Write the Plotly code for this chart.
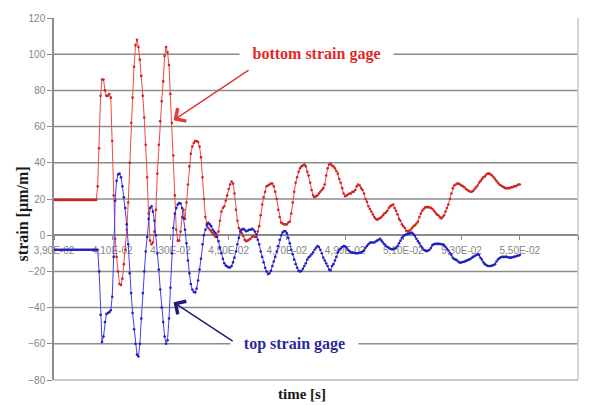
import numpy as np
import plotly.graph_objects as go

# Sampling of the strain recordings (s)
t_start = 0.039
t_step = 5e-5

# Bottom strain gage, µm/m
bottom_gage = [19.5] * 30 + [
    27, 48, 77, 86, 86, 80, 77, 77, 78, 76,
    52, 22, -2, -12, -20, -27, -27.5, -24, -16, -8,
    3, 18, 40, 62, 76, 93, 105, 108, 104, 97,
    88, 77, 65, 50, 32, 12, -3, -5, -4, 2,
    14, 34, 50, 63, 74, 85, 99, 104, 101, 94,
    78, 62, 44, 22, 3, -3, -3, 2, 10, 14,
    9, 18, 28, 38, 45, 49, 51, 52, 52, 51.5,
    49, 43, 32, 20, 10, 6.5, 4, 3, 2, 1,
    0, -1, -0.5, 2, 8, 13, 15, 16, 19, 22,
    25.5, 28, 29.7, 28.5, 23, 14, 8, 4, 3, 1,
    -0.5, -2.5, -3.3, -3, -2.5, -2, -1, -0.5, -1, -1,
    2, 5, 11, 17, 21, 24, 27, 27.5, 28, 28.5,
    28.5, 27, 24, 20, 14, 10, 7, 6.5, 6, 6,
    6, 7, 7.5, 12, 18, 24, 29, 32, 35, 37,
    38, 38.5, 39, 38, 35, 33, 29, 25, 22, 21,
    21.5, 22, 23, 24, 25, 26, 28, 33, 37, 39,
    39.5, 38.5, 38, 37, 35.5, 34, 31, 29, 26, 23,
    21.5, 22, 22.5, 23, 23, 24, 24, 25, 27, 28,
    27.5, 26, 25, 23, 20, 18.5, 16, 14.5, 13, 11.5,
    10, 9, 8.6, 9, 9.5, 10, 11, 12, 12.5, 13.5,
    15, 16, 16.5, 17, 15, 13.5, 11.5, 9, 8, 6,
    5, 4, 2.5, 2, 2.5, 3, 4, 5, 5.5, 6.5,
    7.5, 10, 12, 13.5, 14.5, 15.4, 15.5, 15.5, 15.4, 15,
    14.5, 13.5, 12.5, 11.5, 11, 10, 9.3, 10, 11, 13,
    15, 17, 20, 23, 26, 27.5, 28, 28.5, 28.5, 28,
    27.5, 27, 26.5, 25.5, 25, 24.5, 24, 24, 24.5, 25.5,
    26.5, 27.5, 29, 30, 31, 32, 32.5, 33.5, 34, 34,
    33.5, 33, 32, 31, 30, 29, 28, 27.5, 27, 26.5,
    26, 26, 26, 26, 26.5, 26.5, 27, 27, 27.5, 28, 28,
]

# Top strain gage, µm/m
top_gage = [-8.0] * 31 + [
    -20, -44, -59, -56, -48, -43.5, -43, -42.5, -41.5,
    -34, -12, 19, 30, 33.5, 34, 32, 27, 21, 15,
    6, -5, -21, -32, -43, -52, -60, -66, -67, -60,
    -46, -32, -20, -9, -1, 9, 15, 16, 13, 8,
    0, -10, -19, -30, -40, -48, -56, -60, -58, -46,
    -29, -10, 4, 12, 15, 17, 17.7, 17.5, 15, 9.5,
    3, -4.5, -14, -21, -27, -30, -31.3, -31.6, -29.5, -25,
    -19, -13, -5, 0, 3, 5.5, 6.8, 6, 5, 3,
    2, 1, -1, -3.3, -7, -10, -13, -15.5, -16.8, -17.3,
    -17.8, -17.8, -17, -15, -12.4, -9, -5, -1.5, 2, 3,
    3.5, 3, 2.2, 2.5, 3, 3, 3.5, 3, 2, 0.5,
    -2.5, -5, -9, -12, -15, -18, -20, -21.5, -21, -19.7,
    -17, -14.5, -12, -9, -6, -2.5, 0, 1.5, 2.2, 2.2,
    1, -1.5, -4.5, -8, -10.5, -13.5, -16, -18, -19.7, -20,
    -19.8, -18.5, -17, -15.5, -13.5, -12.2, -11.5, -10.5, -9.5, -8,
    -7, -6, -6.5, -8, -10, -12.4, -14, -15.5, -17, -19,
    -19.5, -17, -16, -14, -12, -9.5, -8, -7.5, -6.5, -6,
    -6.2, -7, -8, -8.8, -9.5, -9.7, -9.7, -10, -10, -10,
    -9.7, -9.5, -9, -8.5, -7, -6, -5, -4.2, -4, -4,
    -4, -3.5, -3, -2.5, -2, -3, -4, -5, -5.8, -6.5,
    -7, -7.5, -7.8, -7.8, -7.5, -7, -6, -4.5, -3, -1.5,
    -0.5, 0, 0.5, 0.7, 1, 1.3, 1.3, 0.5, -0.5, -2,
    -3.3, -4.5, -6, -7, -8, -8.5, -8.8, -8.5, -8, -7,
    -5.5, -5, -4.8, -4.8, -4.8, -4.8, -5, -5, -5.5, -6.5,
    -7.5, -8.5, -10, -11, -12.5, -13.2, -13.5, -14, -14.8, -15.2,
    -15, -14.8, -14.6, -14.2, -13.8, -13.5, -13.2, -12.5, -12, -11.5,
    -11, -10.6, -11, -12.5, -13.5, -15, -16, -16.5, -17, -17,
    -17, -16.8, -16.5, -16, -14.5, -13.4, -12.8, -12.2, -12, -12,
    -12, -12, -12.2, -12.4, -12.4, -12.2, -12, -11.8, -11.5, -11.2, -11,
]

x_tick_vals = [0.039, 0.041, 0.043, 0.045, 0.047, 0.049, 0.051, 0.053, 0.055, 0.057]
x_tick_text = ["3,90E-02", "4,10E-02", "4,30E-02", "4,50E-02", "4,70E-02",
               "4,90E-02", "5,10E-02", "5,30E-02", "5,50E-02", "5,70E-02"]
y_tick_vals = [-80, -60, -40, -20, 0, 20, 40, 60, 80, 100, 120]
grid_levels = [-60, -40, -20, 0, 20, 40, 60, 80, 100]

t_bottom = t_start + t_step * np.arange(len(bottom_gage))
t_top = t_start + t_step * np.arange(len(top_gage))

fig = go.Figure()
fig.add_trace(go.Scatter(
    x=t_bottom, y=bottom_gage, mode="lines+markers", name="bottom strain gage",
    line=dict(color="#f04848", width=1),
    marker=dict(color="#d02424", size=2.6),
))
fig.add_trace(go.Scatter(
    x=t_top, y=top_gage, mode="lines+markers", name="top strain gage",
    line=dict(color="#4040f0", width=1),
    marker=dict(color="#2020c0", size=2.6),
))

grid_color = "#8c8c8c"
shapes = [
    dict(type="line", xref="paper", yref="y", x0=0, x1=1, y0=g, y1=g,
         line=dict(color=grid_color, width=1.5), layer="below")
    for g in grid_levels
]
# plot-area border: bottom and right edges
shapes.append(dict(type="line", xref="paper", yref="paper", x0=0, x1=1, y0=0, y1=0,
                   line=dict(color="#c8c8c8", width=2), layer="below"))
shapes.append(dict(type="line", xref="paper", yref="paper", x0=1, x1=1, y0=0, y1=1,
                   line=dict(color="#c8c8c8", width=1.5), layer="below"))

tick_font = dict(family="Liberation Sans, Arial, sans-serif", size=10, color="#858585")
serif = "Liberation Serif, Times New Roman, serif"

fig.update_layout(
    width=591, height=405,
    margin=dict(l=54, r=13, t=15, b=25),
    paper_bgcolor="white", plot_bgcolor="white",
    showlegend=False,
    shapes=shapes,
    xaxis=dict(
        range=[0.039, 0.057], tickvals=x_tick_vals, ticktext=x_tick_text,
        anchor="free", position=0.4, showline=True, linecolor=grid_color, linewidth=1.5,
        ticks="outside", ticklen=4, tickcolor=grid_color, tickwidth=1,
        showgrid=False, zeroline=False, tickfont=tick_font, layer="below traces",
        ticklabelstandoff=2,
    ),
    yaxis=dict(
        range=[-80, 120], tickvals=y_tick_vals, showline=True, linecolor=grid_color,
        linewidth=1.5, ticks="outside", ticklen=5, tickcolor=grid_color,
        showgrid=False, zeroline=False, tickfont=tick_font,
    ),
    annotations=[
        dict(text="<b>bottom strain gage</b>", x=0.04803, y=100, xref="x", yref="y",
             showarrow=False, font=dict(family=serif, size=16, color="#e02a2a"),
             bgcolor="white", width=153, borderpad=0),
        dict(text="<b>top strain gage</b>", x=0.04726, y=-60, xref="x", yref="y",
             showarrow=False, font=dict(family=serif, size=16, color="#2a2a9a"),
             bgcolor="white", width=127, borderpad=0),
        dict(text="", x=0.043106, y=63.5, ax=0.045737, ay=91.7, xref="x", yref="y",
             axref="x", ayref="y", showarrow=True, arrowhead=4, arrowsize=2,
             arrowwidth=1.5, arrowcolor="#e03a3a"),
        dict(text="", x=0.043106, y=-37, ax=0.045189, ay=-59, xref="x", yref="y",
             axref="x", ayref="y", showarrow=True, arrowhead=4, arrowsize=2,
             arrowwidth=1.5, arrowcolor="#1c1c7a"),
        dict(text="<b>time [s]</b>", x=0.4727, y=0, xref="paper", yref="paper",
             xanchor="center", yanchor="middle", yshift=-14, showarrow=False,
             font=dict(family=serif, size=15, color="#1a1a1a")),
        dict(text="<b>strain [µm/m]</b>", x=0, y=0.4575, xref="paper", yref="paper",
             xanchor="center", yanchor="middle", xshift=-31, textangle=-90,
             showarrow=False, font=dict(family=serif, size=16, color="#1a1a1a")),
    ],
)

fig.write_html("out.html")
